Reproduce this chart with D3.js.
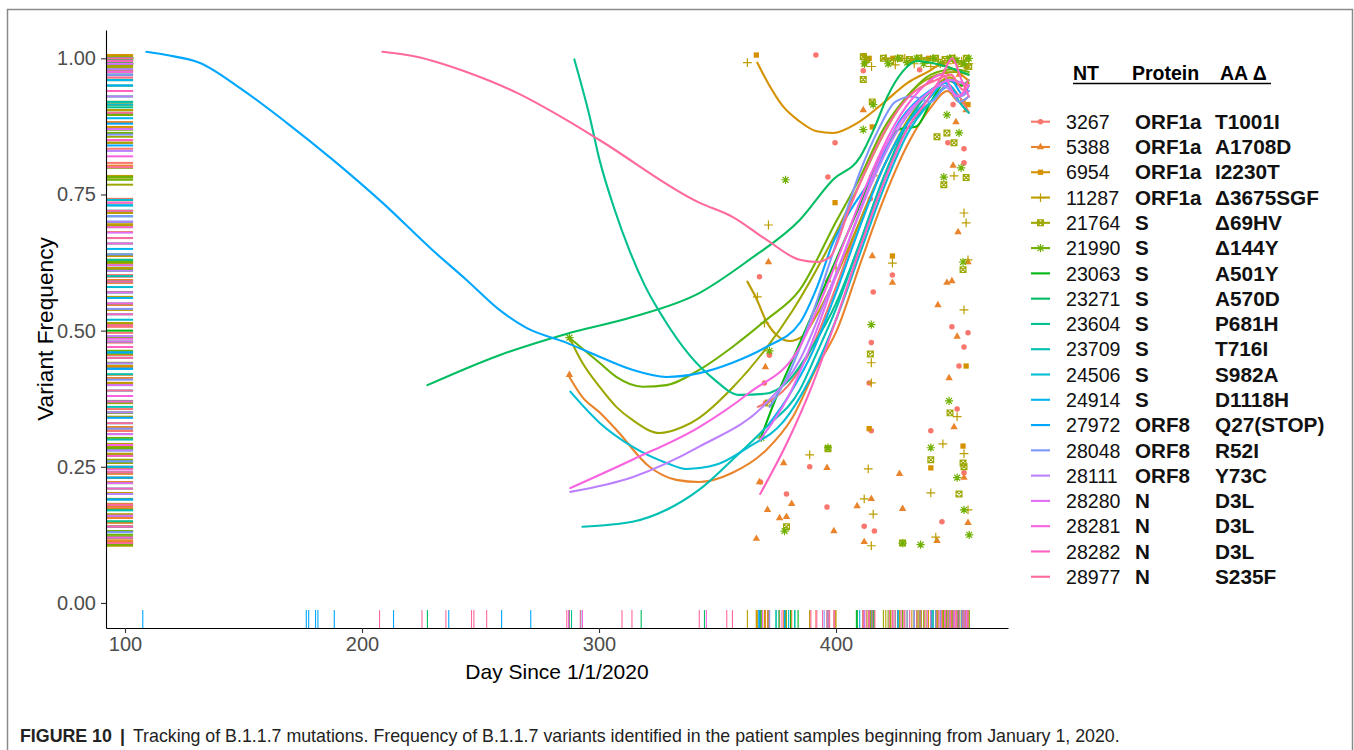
<!DOCTYPE html>
<html><head><meta charset="utf-8">
<script src="https://cdn.jsdelivr.net/npm/d3@7"></script>
<style>
body{margin:0;background:#fff;}
text{font-family:"Liberation Sans",Arial,Helvetica,sans-serif;}
</style></head><body>
<svg id="chart" width="1354" height="750" xmlns="http://www.w3.org/2000/svg"></svg>
<script>
// ---- legend / series labels ----
const seriesNT = ["3267","5388","6954","11287","21764","21990","23063","23271","23604","23709","24506","24914","27972","28048","28111","28280","28281","28282","28977"];
const seriesProtein = ["ORF1a","ORF1a","ORF1a","ORF1a","S","S","S","S","S","S","S","S","ORF8","ORF8","ORF8","N","N","N","N"];
const seriesAA = ["T1001I","A1708D","I2230T","\u03943675SGF","\u039469HV","\u0394144Y","A501Y","A570D","P681H","T716I","S982A","D1118H","Q27(STOP)","R52I","Y73C","D3L","D3L","D3L","S235F"];

const yTicks = [0, 0.25, 0.5, 0.75, 1.0];
const xTicks = [100, 200, 300, 400];

// ---- observed frequencies (day, frequency) for the six point-marked mutations ----
const points3267 = [[391.5,1.006],[435.3,0.979],[411.5,0.977],[449.4,0.915],[447.2,0.845],[399.6,0.845],[454.0,0.834],[454.0,0.808],[396.6,0.782],[414.5,0.742],[423.8,0.602],[367.7,0.599],[415.7,0.571],[448.9,0.507],[455.7,0.496],[414.9,0.478],[454.0,0.470],[371.9,0.455],[451.9,0.435],[414.0,0.404],[369.8,0.404],[370.2,0.367],[451.1,0.356],[440.0,0.316],[414.9,0.316],[388.9,0.250],[454.0,0.239],[368.1,0.222],[379.1,0.200],[396.2,0.176],[444.7,0.149],[411.9,0.141],[416.2,0.132]];
const points5388 = [[287.5,0.419],[411.5,0.905],[454.9,0.905],[450.6,0.883],[449.4,0.803],[451.5,0.681],[415.3,0.637],[371.5,0.626],[455.7,0.626],[396.6,0.593],[448.9,0.591],[446.8,0.588],[423.8,0.588],[443.0,0.547],[451.1,0.489],[370.2,0.433],[447.7,0.413],[449.8,0.323],[377.9,0.257],[396.2,0.248],[426.8,0.237],[454.0,0.230],[367.7,0.222],[414.9,0.191],[381.3,0.182],[408.9,0.178],[428.1,0.173],[371.1,0.171],[379.1,0.158],[376.2,0.156],[455.7,0.147],[399.1,0.132],[366.4,0.118],[442.6,0.114],[411.9,0.112],[440,0.96],[446,0.975],[452,0.97]];
const points6954 = [[366.4,1.006],[411.9,1.005],[414,1.0],[412,0.99],[424,1.0],[432,0.995],[439,1.0],[445,0.99],[450,0.995],[455,0.985],[453.6,0.920],[455.7,0.915],[415.3,0.874],[399.6,0.735],[423.8,0.637],[454.9,0.435],[414.0,0.320],[453.6,0.288],[440.0,0.248]];
const points11287 = [[362.6,0.992],[415,0.985],[421,1.0],[425,0.988],[429,1.0],[433,0.99],[436,1.0],[440,0.985],[443,0.998],[447,0.99],[450,1.0],[453,0.995],[456,0.99],[434.5,0.905],[415.7,0.784],[449.8,0.784],[454.0,0.716],[454.9,0.698],[371.5,0.694],[455.7,0.630],[423.8,0.624],[400.0,0.615],[366.8,0.562],[454.0,0.538],[369.8,0.514],[414.9,0.441],[414.9,0.404],[451.1,0.342],[445.1,0.292],[454.0,0.274],[388.9,0.272],[413.6,0.246],[440.0,0.202],[411.9,0.191],[455.7,0.171],[415.7,0.163],[442.1,0.121],[414.9,0.105]];
const points21764 = [[411.5,1.003],[413,0.998],[420,1.0],[423,0.995],[427,1.0],[431,0.998],[435,1.0],[438,0.996],[442,1.0],[446,0.998],[449,1.0],[452,0.99],[455,1.0],[456,0.985],[411.5,0.961],[415.3,0.920],[446.8,0.863],[442.6,0.856],[449.8,0.845],[454.9,0.781],[445.5,0.768],[453.6,0.612],[414.5,0.457],[371.5,0.367],[448.1,0.349],[396.6,0.283],[440.0,0.263],[453.6,0.257],[454.0,0.250],[451.9,0.200],[379.1,0.140],[428.1,0.110]];
const points21990 = [[287.5,0.487],[412,0.99],[422,0.99],[426,1.0],[430,0.992],[434,1.0],[437,0.99],[441,1.0],[444,0.99],[448,1.0],[451,0.996],[454,0.99],[456,1.0],[415.7,0.915],[446.8,0.896],[411.5,0.869],[451.9,0.863],[452.8,0.799],[445.5,0.782],[378.7,0.777],[453.6,0.626],[414.9,0.511],[371.9,0.463],[447.7,0.371],[368.5,0.303],[396.6,0.285],[440.0,0.285],[451.1,0.230],[454.0,0.171],[378.3,0.132],[456.2,0.125],[428.1,0.110],[435.7,0.107]];

// ---- smoothed (loess) trend per mutation, (day, frequency) ----
const smooth3267 = [[367,0.36],[380,0.40],[390,0.47],[400,0.58],[410,0.70],[420,0.80],[430,0.88],[440,0.92],[447,0.95],[452,0.93],[456,0.90]];
const smooth5388 = [[287.5,0.415],[293.0,0.378],[300.2,0.35],[307.3,0.318],[321.3,0.25],[332.6,0.226],[342.3,0.222],[356.3,0.239],[370.6,0.281],[381.7,0.341],[391.9,0.433],[400.4,0.501],[410,0.62],[420,0.74],[430,0.84],[440,0.91],[447,0.94],[452,0.92],[456,0.93]];
const smooth6954 = [[366.8,0.992],[371.9,0.950],[377.4,0.913],[384.7,0.884],[391.9,0.866],[398.7,0.863],[408.9,0.881],[420.0,0.918],[430.2,0.955],[438.7,0.975],[444.3,0.988],[451.1,0.975],[455.7,0.96]];
const smooth11287 = [[362.6,0.590],[366.4,0.559],[370.6,0.517],[374.9,0.492],[380.4,0.481],[386,0.49],[392,0.53],[400,0.60],[410,0.70],[420,0.80],[430,0.885],[440,0.94],[448,0.965],[453,0.95],[456,0.955]];
const smooth21764 = [[287.5,0.487],[293.0,0.441],[300.2,0.397],[307.3,0.360],[314.1,0.336],[325.5,0.312],[335.2,0.323],[342.3,0.340],[356.3,0.395],[370.6,0.468],[381.7,0.537],[400,0.68],[410,0.77],[420,0.86],[430,0.93],[440,0.965],[450,0.975],[456,0.97]];
const smooth21990 = [[287.5,0.487],[300.2,0.441],[307.3,0.415],[318.4,0.397],[328.5,0.400],[342.3,0.428],[356.3,0.470],[370.6,0.520],[384.7,0.575],[400,0.70],[410,0.78],[420,0.87],[430,0.93],[440,0.97],[450,0.98],[456,0.975]];
const smooth23063 = [[368,0.30],[375,0.38],[383,0.46],[392,0.55],[400,0.63],[410,0.73],[420,0.83],[427,0.87],[434,0.875],[440,0.92],[447,0.96],[453,0.95],[456,0.96]];
const smooth23271 = [[227.6,0.400],[258.0,0.455],[286.2,0.494],[314.1,0.525],[342.3,0.569],[363.4,0.630],[384.7,0.703],[398.7,0.777],[410.2,0.819],[416,0.87],[421.7,0.93],[428,0.975],[434,0.995],[442,0.99],[450,0.98],[456,0.97]];
const smooth23604 = [[289.6,0.998],[295.9,0.896],[300.2,0.814],[306.6,0.722],[312.8,0.648],[319.2,0.584],[327.6,0.520],[338.2,0.455],[348.7,0.410],[359.1,0.382],[369.8,0.384],[380.4,0.410],[390,0.47],[400,0.55],[410,0.66],[420,0.78],[430,0.88],[440,0.94],[448,0.96],[456,0.95]];
const smooth23709 = [[293.0,0.140],[314.1,0.149],[328.5,0.171],[342.3,0.208],[356.3,0.263],[370.6,0.323],[384.7,0.391],[392,0.46],[400,0.54],[410,0.66],[420,0.78],[430,0.87],[440,0.92],[448,0.95],[452,0.92],[456,0.90]];
const smooth24506 = [[287.9,0.388],[300.2,0.331],[314.1,0.287],[328.5,0.257],[336.9,0.246],[349.6,0.254],[363.4,0.287],[377.4,0.331],[390,0.42],[400,0.52],[410,0.64],[420,0.76],[430,0.86],[440,0.92],[448,0.95],[452,0.93],[456,0.94]];
const smooth24914 = [[372,0.33],[380,0.38],[390,0.46],[400,0.57],[410,0.69],[420,0.80],[430,0.88],[440,0.93],[446,0.955],[452,0.93],[456,0.94]];
const smooth27972 = [[109.0,1.012],[117.5,1.006],[131.4,0.992],[149.6,0.942],[168.1,0.882],[187.6,0.814],[208.6,0.735],[229.7,0.648],[244.1,0.593],[258.0,0.538],[269.4,0.505],[286.2,0.478],[300.2,0.452],[314.1,0.428],[328.5,0.415],[342.3,0.422],[356.3,0.441],[370.6,0.470],[384.7,0.514],[392,0.58],[398.7,0.661],[406,0.72],[414.5,0.777],[427.2,0.887],[440,0.942],[448.5,0.96],[453.6,0.933],[456,0.95]];
const smooth28048 = [[372,0.36],[380,0.42],[390,0.53],[400,0.66],[410,0.79],[418,0.87],[425,0.92],[432,0.93],[440,0.92],[447,0.95],[452,0.92],[456,0.93]];
const smooth28111 = [[287.9,0.204],[314.1,0.231],[342.3,0.287],[370.6,0.367],[384.7,0.446],[395,0.55],[405,0.66],[415,0.77],[425,0.86],[435,0.92],[445,0.95],[452,0.93],[456,0.94]];
const smooth28280 = [[368,0.30],[380,0.38],[390,0.48],[400,0.60],[410,0.72],[420,0.83],[430,0.90],[440,0.94],[448,0.96],[456,0.95]];
const smooth28281 = [[287.9,0.211],[314.1,0.263],[342.3,0.323],[363.4,0.386],[384.7,0.470],[395,0.57],[405,0.68],[415,0.79],[425,0.88],[435,0.94],[445,0.97],[451,0.93],[456,0.95]];
const smooth28282 = [[368,0.20],[380,0.30],[390,0.40],[400,0.52],[410,0.65],[420,0.77],[430,0.87],[438,0.92],[445,0.97],[449,1.0],[453,0.96],[456,0.93]];
const smooth28977 = [[208.6,1.012],[223.0,1.003],[244.1,0.975],[265.2,0.937],[286.2,0.887],[300.2,0.850],[342.3,0.735],[356.3,0.709],[370.6,0.667],[384.7,0.630],[391.9,0.626],[397.4,0.635],[405.9,0.727],[413.2,0.801],[420.9,0.869],[431.5,0.933],[442.1,0.96],[448.5,0.97],[453.6,0.942],[455.7,0.96]];

// ---- sampling days / frequencies of mutations without point markers (rug only) ----
const rugDays23063 = [368,380.8,384.0,408.6,433.1,440.4,452];
const rugDays23271 = [227.6,317.8,344.5,375.9,409,433.1,440.4,454];
const rugDays23604 = [288.4,374.7,382.6,416,435.5,450];
const rugDays23709 = [292.3,374.7,382.6,415,433,447,455];
const rugDays24506 = [287.2,380,412,426.2,441,452];
const rugDays24914 = [367.8,378.4,410,425,442,453];
const rugDays27972 = [107.5,176.5,177.5,180.4,181.4,188.3,213.3,236.6,258.9,271.2,367.4,378.4,426.2,440.4,449.5];
const rugDays28048 = [372,395,414,430,444,454];
const rugDays28111 = [287.2,371.8,396.3,412,433,448,455];
const rugDays28280 = [369.0,397,414,429,440,450,455];
const rugDays28281 = [287.2,293.0,345.3,399.2,411.5,424,431.1,438.5,446,451,454];
const rugDays28282 = [377.2,413.9,415.2,423.8,427.5,435.5,443.4,445.8,448.3,450.8,453.2,455.7];
const rugDays28977 = [207.4,225.3,235.4,246.2,247.2,252.6,286.4,292.1,309.7,313.9,342.3,353.9,356.3,389.4,391.9,394.3,397.3,411.5,412.7,413.9,416.4,422.5,425.0,428.7,434.1,437.3,442.2,444.6,447.1,449.5,452.0,454.4,455.7];

const rugFreq23063 = [0.98,0.95,0.90,0.74,0.64,0.61,0.50,0.44,0.35,0.29,0.22,0.13,0.11];
const rugFreq23271 = [0.99,0.93,0.87,0.72,0.66,0.57,0.48,0.40,0.31,0.26,0.19,0.12];
const rugFreq23604 = [1.0,0.96,0.91,0.85,0.71,0.63,0.55,0.46,0.38,0.27,0.21,0.15];
const rugFreq23709 = [0.97,0.92,0.73,0.69,0.60,0.53,0.47,0.42,0.36,0.30,0.24,0.17,0.14];
const rugFreq24506 = [0.99,0.94,0.915,0.74,0.67,0.58,0.52,0.45,0.39,0.33,0.28,0.20];
const rugFreq24914 = [0.96,0.89,0.73,0.65,0.56,0.43,0.37,0.25,0.18,0.16];
const rugFreq27972 = [1.0,0.95,0.88,0.84,0.72,0.70,0.62,0.59,0.46,0.43,0.34,0.23,0.19];
const rugFreq28048 = [0.97,0.86,0.71,0.64,0.54,0.41,0.32,0.26,0.13];
const rugFreq28111 = [0.98,0.93,0.83,0.70,0.61,0.49,0.44,0.35,0.28,0.20];
const rugFreq28280 = [0.99,0.87,0.68,0.57,0.48,0.40,0.31,0.22,0.16];
const rugFreq28281 = [0.975,0.82,0.735,0.66,0.55,0.485,0.38,0.29,0.245,0.12];
const rugFreq28282 = [0.995,0.94,0.85,0.69,0.62,0.53,0.47,0.37,0.27,0.21,0.14];
const rugFreq28977 = [1.0,0.965,0.90,0.80,0.72,0.67,0.59,0.51,0.45,0.39,0.33,0.24,0.18,0.11];

// ---- assemble per-series records ----
const pointSets = [points3267, points5388, points6954, points11287, points21764, points21990];
const smoothSets = [smooth3267, smooth5388, smooth6954, smooth11287, smooth21764, smooth21990, smooth23063, smooth23271, smooth23604, smooth23709, smooth24506, smooth24914, smooth27972, smooth28048, smooth28111, smooth28280, smooth28281, smooth28282, smooth28977];
const rugDaySets = [rugDays23063, rugDays23271, rugDays23604, rugDays23709, rugDays24506, rugDays24914, rugDays27972, rugDays28048, rugDays28111, rugDays28280, rugDays28281, rugDays28282, rugDays28977];
const rugFreqSets = [rugFreq23063, rugFreq23271, rugFreq23604, rugFreq23709, rugFreq24506, rugFreq24914, rugFreq27972, rugFreq28048, rugFreq28111, rugFreq28280, rugFreq28281, rugFreq28282, rugFreq28977];

// discrete hue palette in polar CIE-Luv (l = 65, c = 100), hues evenly spaced from 15 degrees
function luvColor(h, c, l) {
  const hr = h * Math.PI / 180;
  const u = c * Math.cos(hr), v = c * Math.sin(hr);
  const Xn = 95.047, Yn = 100, Zn = 108.883;
  const den = Xn + 15 * Yn + 3 * Zn;
  const un = 4 * Xn / den, vn = 9 * Yn / den;
  const Y = l > 8 ? Yn * Math.pow((l + 16) / 116, 3) : Yn * l / 903.3;
  const up = u / (13 * l) + un, vp = v / (13 * l) + vn;
  const X = Y * 9 * up / (4 * vp);
  const Z = Y * (12 - 3 * up - 20 * vp) / (4 * vp);
  const xx = X / 100, yy = Y / 100, zz = Z / 100;
  const lin = [
    3.2404542 * xx - 1.5371385 * yy - 0.4985314 * zz,
    -0.9692660 * xx + 1.8760108 * yy + 0.0415560 * zz,
    0.0556434 * xx - 0.2040259 * yy + 1.0572252 * zz
  ];
  const g = lin.map(t => {
    const s = t <= 0.0031308 ? 12.92 * t : 1.055 * Math.pow(t, 1 / 2.4) - 0.055;
    return Math.round(Math.max(0, Math.min(1, s)) * 255);
  });
  return d3.rgb(g[0], g[1], g[2]).formatHex();
}
const nSeries = seriesNT.length;
const colors = d3.range(nSeries).map(i => luvColor(15 + i * 360 / nSeries, 100, 65));

// point glyphs: filled circle, filled triangle, filled square, plus, boxed cross, asterisk
const plusType = { draw(ctx, size) { const r = Math.sqrt(size) * 0.55; ctx.moveTo(-r, 0); ctx.lineTo(r, 0); ctx.moveTo(0, -r); ctx.lineTo(0, r); } };
const boxCrossType = { draw(ctx, size) { const r = Math.sqrt(size) * 0.4; ctx.moveTo(-r, -r); ctx.lineTo(r, -r); ctx.lineTo(r, r); ctx.lineTo(-r, r); ctx.closePath(); ctx.moveTo(-r, -r); ctx.lineTo(r, r); ctx.moveTo(r, -r); ctx.lineTo(-r, r); } };
const asteriskType = { draw(ctx, size) { const r = Math.sqrt(size) * 0.5, d = r * 0.72; ctx.moveTo(-r, 0); ctx.lineTo(r, 0); ctx.moveTo(0, -r); ctx.lineTo(0, r); ctx.moveTo(-d, -d); ctx.lineTo(d, d); ctx.moveTo(d, -d); ctx.lineTo(-d, d); } };
const shapes = [
  { type: d3.symbolCircle, size: 24, fill: true },
  { type: d3.symbolTriangle, size: 24, fill: true },
  { type: d3.symbolSquare, size: 28, fill: true },
  { type: plusType, size: 64, fill: false },
  { type: boxCrossType, size: 52, fill: false },
  { type: asteriskType, size: 68, fill: false }
];

// ---- layout ----
const svg = d3.select("#chart");
const panel = { left: 106, right: 1008, top: 30, bottom: 628 };
const x = d3.scaleLinear().domain([91.98, 472.57]).range([panel.left, panel.right]);
const y = d3.scaleLinear().domain([-0.046, 1.052]).range([panel.bottom, panel.top]);

// figure frame
svg.append("rect").attr("x", 7.5).attr("y", 9.5).attr("width", 1345).attr("height", 800)
  .attr("fill", "none").attr("stroke", "#8a8a8a").attr("stroke-width", 1.5);

// ---- rugs ----
const rugY = [], rugX = [];
pointSets.forEach((pts, i) => pts.forEach(p => { rugX.push({ v: p[0], s: i }); rugY.push({ v: p[1], s: i }); }));
rugDaySets.forEach((ds, k) => ds.forEach(d => rugX.push({ v: d, s: k + 6 })));
rugFreqSets.forEach((fs, k) => fs.forEach(f => rugY.push({ v: f, s: k + 6 })));
rugX.sort((a, b) => a.s - b.s); rugY.sort((a, b) => a.s - b.s);
const rugLenX = 0.03 * (panel.right - panel.left);
const rugLenY = 0.03 * (panel.bottom - panel.top);

svg.append("g").selectAll("line").data(rugY).join("line")
  .attr("x1", panel.left).attr("x2", panel.left + rugLenX)
  .attr("y1", d => y(d.v)).attr("y2", d => y(d.v))
  .attr("stroke", d => colors[d.s]).attr("stroke-width", 2);
svg.append("g").selectAll("line").data(rugX).join("line")
  .attr("x1", d => x(d.v)).attr("x2", d => x(d.v))
  .attr("y1", panel.bottom).attr("y2", panel.bottom - rugLenY)
  .attr("stroke", d => colors[d.s]).attr("stroke-width", 1.1);

// ---- points ----
const sym = d3.symbol();
pointSets.forEach((pts, i) => {
  const sh = shapes[i];
  svg.append("g").selectAll("path").data(pts).join("path")
    .attr("transform", d => `translate(${x(d[0])},${y(d[1])})`)
    .attr("d", sym.type(sh.type).size(sh.size)())
    .attr("fill", sh.fill ? colors[i] : "none")
    .attr("stroke", sh.fill ? "none" : colors[i])
    .attr("stroke-width", 1.2);
});

// ---- smoothed trends ----
const line = d3.line().x(d => x(d[0])).y(d => y(d[1])).curve(d3.curveMonotoneX);
svg.append("g").selectAll("path").data(smoothSets).join("path")
  .attr("d", d => line(d)).attr("fill", "none")
  .attr("stroke", (d, i) => colors[i]).attr("stroke-width", 2.1)
  .attr("stroke-linejoin", "round").attr("stroke-linecap", "round");

// ---- axes ----
const yAxis = d3.axisLeft(y).tickValues(yTicks).tickFormat(d3.format(".2f")).tickSize(5).tickSizeOuter(0).tickPadding(5);
const xAxis = d3.axisBottom(x).tickValues(xTicks).tickFormat(d3.format("d")).tickSize(5).tickSizeOuter(0).tickPadding(4);
const gy = svg.append("g").attr("transform", `translate(${panel.left},0)`).call(yAxis);
const gx = svg.append("g").attr("transform", `translate(0,${panel.bottom})`).call(xAxis);
[gx, gy].forEach(g => {
  g.select(".domain").attr("stroke", "#000").attr("stroke-width", 1.1);
  g.selectAll(".tick line").attr("stroke", "#333").attr("stroke-width", 1.1);
  g.selectAll(".tick text").attr("fill", "#4d4d4d").attr("font-size", 20)
    .attr("font-family", '"Liberation Sans",Arial,sans-serif');
});

svg.append("text").attr("x", (panel.left + panel.right) / 2).attr("y", 679)
  .attr("text-anchor", "middle").attr("font-size", 21).attr("fill", "#000")
  .text("Day Since 1/1/2020");
svg.append("text").attr("transform", `translate(53,${(panel.top + panel.bottom) / 2}) rotate(-90)`)
  .attr("text-anchor", "middle").attr("font-size", 22.7).attr("fill", "#000")
  .text("Variant Frequency");

// ---- legend ----
const legend = svg.append("g");
const hdr = legend.append("g").attr("font-weight", "bold").attr("font-size", 19.5).attr("fill", "#000");
hdr.append("text").attr("x", 1073).attr("y", 80).text("NT");
hdr.append("text").attr("x", 1132).attr("y", 80).text("Protein");
hdr.append("text").attr("x", 1220).attr("y", 80).text("AA \u0394");
hdr.append("line").attr("x1", 1073).attr("x2", 1271).attr("y1", 83.5).attr("y2", 83.5)
  .attr("stroke", "#000").attr("stroke-width", 1.6);

const rows = legend.selectAll("g.row").data(d3.range(nSeries)).join("g").attr("class", "row")
  .attr("transform", i => `translate(0,${121.7 + i * 25.28})`);
rows.append("line").attr("x1", 1031).attr("x2", 1050).attr("y1", 0).attr("y2", 0)
  .attr("stroke", i => colors[i]).attr("stroke-width", 2.1);
rows.filter(i => i < 6).append("path")
  .attr("transform", "translate(1040.5,0)")
  .attr("d", i => d3.symbol().type(shapes[i].type).size(shapes[i].size)())
  .attr("fill", i => shapes[i].fill ? colors[i] : "none")
  .attr("stroke", i => shapes[i].fill ? "none" : colors[i]).attr("stroke-width", 1.2);
rows.append("text").attr("x", 1066).attr("y", 7.2).attr("font-size", 19.6).attr("fill", "#111")
  .text(i => seriesNT[i]);
rows.append("text").attr("x", 1135).attr("y", 7.2).attr("font-size", 20.6).attr("font-weight", "bold").attr("fill", "#111")
  .text(i => seriesProtein[i]);
rows.append("text").attr("x", 1215).attr("y", 7.2).attr("font-size", 20.8).attr("font-weight", "bold").attr("fill", "#111")
  .text(i => seriesAA[i]);

// ---- caption ----
const cap = svg.append("text").attr("x", 20).attr("y", 742).attr("font-size", 17.8).attr("fill", "#222");
cap.append("tspan").attr("font-weight", "bold").text("FIGURE 10");
cap.append("tspan").attr("dx", 8).attr("font-weight", "bold").text("|");
cap.append("tspan").attr("dx", 8).text("Tracking of B.1.1.7 mutations. Frequency of B.1.1.7 variants identified in the patient samples beginning from January 1, 2020.");
</script>
</body></html>
